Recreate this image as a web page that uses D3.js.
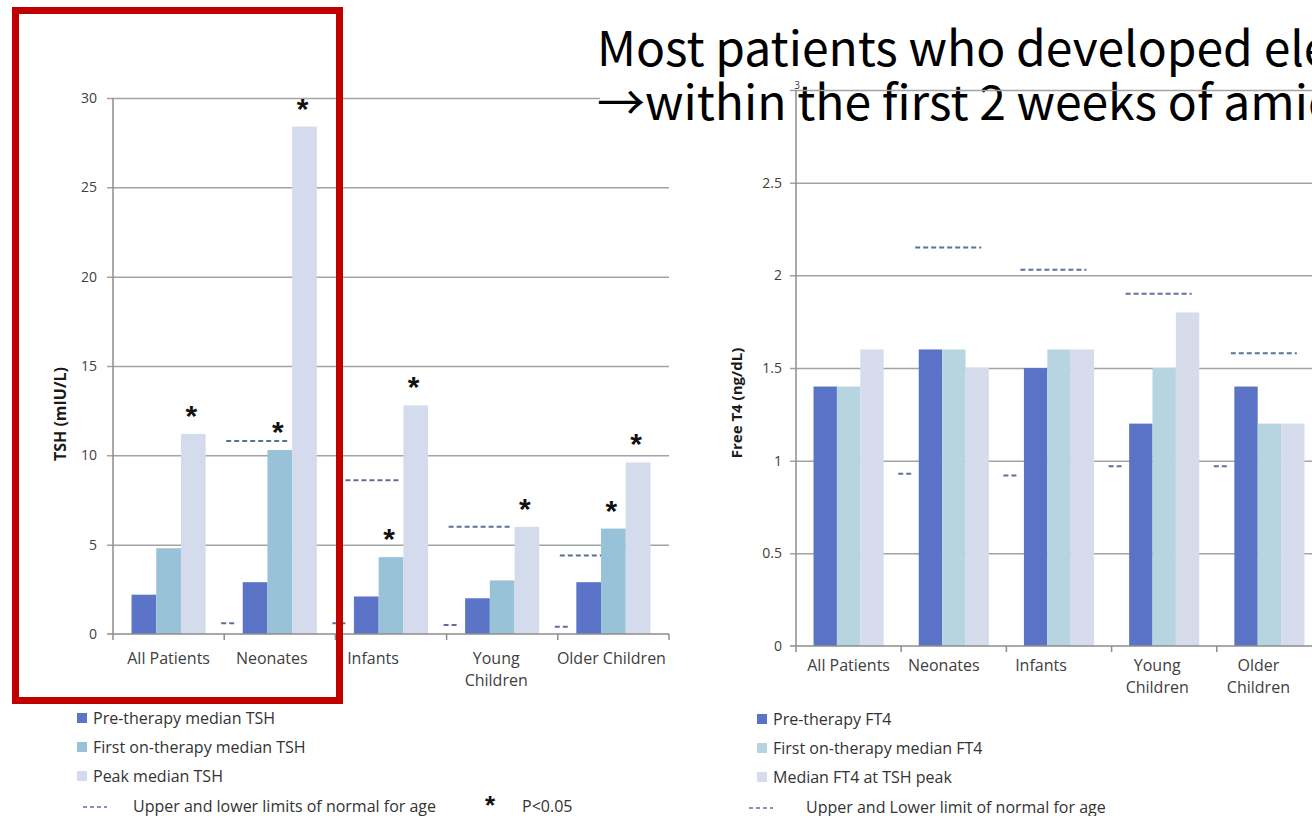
<!DOCTYPE html>
<html><head><meta charset="utf-8">
<script src="https://cdn.jsdelivr.net/npm/d3@7"></script>
<style>
body{margin:0;background:#fff;overflow:hidden}
svg{display:block}
text{font-family:"Open Sans","Noto Sans",sans-serif}
</style>
</head><body>
<svg id="c" width="1312" height="816"></svg>
<script>
// ---------- data ----------
const categories = ["All Patients","Neonates","Infants","Young Children","Older Children"];
const tshCategoryLabels = [["All Patients"],["Neonates"],["Infants"],["Young","Children"],["Older Children"]];
const ft4CategoryLabels = [["All Patients"],["Neonates"],["Infants"],["Young","Children"],["Older","Children"]];

const tshSeriesNames = ["Pre-therapy median TSH","First on-therapy median TSH","Peak median TSH"];
const tshPre   = [2.2, 2.9, 2.1, 2.0, 2.9];
const tshFirst = [4.8, 10.3, 4.3, 3.0, 5.9];
const tshPeak  = [11.2, 28.4, 12.8, 6.0, 9.6];
const tshUpper = [null, 10.8, 8.6, 6.0, 4.4];
const tshLower = [null, 0.6, 0.6, 0.5, 0.4];
const tshSignificant = [[0,0,1],[0,1,1],[0,1,1],[0,0,1],[0,1,1]];
const tshTicks = [0,5,10,15,20,25,30];

const ft4SeriesNames = ["Pre-therapy FT4","First on-therapy median FT4","Median FT4 at TSH peak"];
const ft4Pre   = [1.4, 1.6, 1.5, 1.2, 1.4];
const ft4First = [1.4, 1.6, 1.6, 1.5, 1.2];
const ft4Peak  = [1.6, 1.5, 1.6, 1.8, 1.2];
const ft4Upper = [null, 2.15, 2.03, 1.9, 1.58];
const ft4Lower = [null, 0.93, 0.92, 0.97, 0.97];
const ft4Ticks = [0,0.5,1,1.5,2,2.5,3];

const titleLines = ["Most patients who developed elevated TSH", "\u2192within the first 2 weeks of amiodarone"];

// ---------- drawing ----------
const svg = d3.select("#c");

function drawChart(g, cfg){
  const x = d3.scaleBand().domain(categories).range([cfg.x0, cfg.x1]).padding(0);
  const inner = d3.scaleBand().domain([0,1,2]).range([0, x.bandwidth()]).paddingInner(0).paddingOuter(0.75);
  const y = d3.scaleLinear().domain(cfg.domain).range([cfg.yBottom, cfg.yTop]);

  // gridlines + y labels
  const ax = g.append("g").attr("transform", `translate(${cfg.x0},0)`)
    .call(d3.axisLeft(y).tickValues(cfg.ticks).tickSize(-(cfg.x1-cfg.x0)).tickPadding(cfg.tickPad)
      .tickFormat(d3.format("~g")));
  ax.select(".domain").remove();
  ax.selectAll(".tick line").attr("x1",-6).attr("stroke","#a3a3a3").attr("stroke-width",1.5)
    .filter(d=>d===0).remove();
  ax.selectAll(".tick text").style("font-size",cfg.tickFont+"px").style("fill","#404040")
    .style("font-family","'Open Sans',sans-serif");
  if (cfg.topTickSmall){
    ax.selectAll(".tick text").filter(d=>d===cfg.domain[1])
      .style("font-size","10px").attr("x",4).attr("dy","-0.15em");
  }

  // limits (dashed)
  const limits = [];
  categories.forEach((c,i)=>{
    if (cfg.upper[i]!=null) limits.push({c, v:cfg.upper[i], a:cfg.upA, b:cfg.upB});
    if (cfg.lower[i]!=null) limits.push({c, v:cfg.lower[i], a:cfg.loA, b:cfg.loB});
  });
  g.append("g").selectAll("line").data(limits).join("line")
    .attr("x1", d=>x(d.c)+d.a).attr("x2", d=>x(d.c)+d.b)
    .attr("y1", d=>y(d.v)).attr("y2", d=>y(d.v))
    .attr("stroke","#5f6f9c").attr("stroke-width",2).attr("stroke-dasharray","5,3");

  // bars
  const series = [cfg.s0, cfg.s1, cfg.s2];
  const bars = g.append("g");
  series.forEach((vals,si)=>{
    bars.append("g").selectAll("rect").data(vals.map((v,i)=>({c:categories[i], v}))).join("rect")
      .attr("x", d=>x(d.c)+inner(si)).attr("width", inner.bandwidth())
      .attr("y", d=>y(d.v)).attr("height", d=>y(0)-y(d.v))
      .attr("fill", cfg.colors[si]);
  });

  // y axis line
  g.append("line").attr("x1",cfg.x0).attr("x2",cfg.x0).attr("y1",cfg.yTop).attr("y2",cfg.yBottom)
    .attr("stroke","#8c8c8c").attr("stroke-width",1.5);
  // x axis line + ticks
  g.append("line").attr("x1",cfg.x0-6).attr("x2",cfg.x1).attr("y1",cfg.yBottom).attr("y2",cfg.yBottom)
    .attr("stroke","#8c8c8c").attr("stroke-width",1.5);
  g.append("g").selectAll("line").data(d3.range(categories.length+1)).join("line")
    .attr("x1", i=>cfg.x0+i*x.step()).attr("x2", i=>cfg.x0+i*x.step())
    .attr("y1", cfg.yBottom).attr("y2", cfg.yBottom+6)
    .attr("stroke","#8c8c8c").attr("stroke-width",1.5);

  // category labels
  g.append("g").selectAll("text").data(categories).join("text")
    .attr("text-anchor","middle").style("font-size",cfg.labelFont+"px").style("fill","#404040")
    .each(function(c,i){
      const t = d3.select(this);
      cfg.catLabels[i].forEach((ln,li)=>{
        t.append("tspan").attr("x", x(c)+x.bandwidth()/2+cfg.labelShift[i])
          .attr("y", cfg.yBottom+cfg.labelDy+li*22).text(ln);
      });
    });

  // significance stars
  if (cfg.sig){
    const stars = [];
    cfg.sig.forEach((row,i)=>row.forEach((s,si)=>{ if(s) stars.push({c:categories[i], si, v:series[si][i]}); }));
    g.append("g").selectAll("text").data(stars).join("text")
      .attr("x", d=>x(d.c)+inner(d.si)+inner.bandwidth()/2-2)
      .attr("y", d=>y(d.v)-8)
      .attr("text-anchor","middle")
      .style("font-family","'Liberation Sans',Arial,sans-serif").style("font-weight","bold")
      .style("font-size","30px").style("fill","#111").text("*");
  }

  // y title
  g.append("text").attr("transform",`translate(${cfg.titleX},${cfg.titleY}) rotate(-90)`)
    .attr("text-anchor","middle").style("font-size",cfg.yTitleFont+"px").style("font-weight","bold")
    .style("fill","#1a1a1a").attr("dy","0.35em").text(cfg.yTitle);

  // legend
  const lg = g.append("g");
  cfg.names.forEach((n,si)=>{
    lg.append("rect").attr("x",cfg.legX).attr("y",cfg.legY+si*cfg.legStep-5)
      .attr("width",10).attr("height",10).attr("fill",cfg.colors[si]);
    lg.append("text").attr("x",cfg.legX+16).attr("y",cfg.legY+si*cfg.legStep)
      .attr("dy","0.35em").style("font-size","16px").style("fill","#333").text(n);
  });
  const ly = cfg.legY+3*cfg.legStep+2;
  lg.append("line").attr("x1",cfg.legX+cfg.dashDx).attr("x2",cfg.legX+cfg.dashDx+24).attr("y1",ly).attr("y2",ly)
    .attr("stroke","#5f6f9c").attr("stroke-width",1.5).attr("stroke-dasharray","4,3");
  lg.append("text").attr("x",cfg.legX+cfg.limTextDx).attr("y",ly).attr("dy","0.3em")
    .style("font-size","16px").style("fill","#333").text(cfg.limitText);
  if (cfg.pText){
    lg.append("text").attr("x",cfg.legX+413).attr("y",ly+7).attr("text-anchor","middle")
      .style("font-family","'Liberation Sans',Arial,sans-serif").style("font-weight","bold")
      .style("font-size","26px").style("fill","#111").text("*");
    lg.append("text").attr("x",cfg.legX+445).attr("y",ly).attr("dy","0.3em")
      .style("font-size","16px").style("fill","#333").text(cfg.pText);
  }
}

// left chart
const left = svg.append("g");
drawChart(left, {
  x0:113, x1:669, yTop:98, yBottom:634, domain:[0,30], ticks:tshTicks, tickPad:16, tickFont:14,
  s0:tshPre, s1:tshFirst, s2:tshPeak, upper:tshUpper, lower:tshLower,
  upA:2, upB:66, loA:-3, loB:13,
  colors:["#5b74c8","#98c2d7","#d4dbec"],
  catLabels:tshCategoryLabels, labelShift:[0,-8,-18,-6,-2], labelFont:16, labelDy:30,
  sig:tshSignificant, yTitle:"TSH (mIU/L)", yTitleFont:16, titleX:60, titleY:414,
  names:tshSeriesNames, legX:77, legY:718, legStep:29, dashDx:6,
  limitText:"Upper and lower limits of normal for age", limTextDx:56, pText:"P<0.05"
});

// red highlight box
svg.append("rect").attr("x",15.5).attr("y",10.5).attr("width",324).attr("height",690)
  .attr("fill","none").attr("stroke","#c00000").attr("stroke-width",7);

// title (white box behind)
svg.append("rect").attr("x",600).attr("y",22).attr("width",712).attr("height",106).attr("fill","#fff");
svg.append("g").selectAll("text").data(titleLines).join("text")
  .attr("x",597).attr("y",(d,i)=>66+i*54)
  .style("font-family","'Noto Sans CJK KR','Noto Sans',sans-serif").style("font-size","48px")
  .style("fill","#000").text(d=>d);

// right chart
const right = svg.append("g");
drawChart(right, {
  x0:796, x1:1322, yTop:90, yBottom:646, domain:[0,3], ticks:ft4Ticks, tickPad:14, tickFont:14,
  topTickSmall:true,
  s0:ft4Pre, s1:ft4First, s2:ft4Peak, upper:ft4Upper, lower:ft4Lower,
  upA:14, upB:80, loA:-3, loB:13,
  colors:["#5b73c6","#b7d5e0","#d6dcec"],
  catLabels:ft4CategoryLabels, labelShift:[0,-10,-18,-7,-11], labelFont:16, labelDy:25,
  sig:null, yTitle:"Free T4 (ng/dL)", yTitleFont:15, titleX:737, titleY:403,
  names:ft4SeriesNames, legX:757, legY:719, legStep:29, dashDx:-8,
  limitText:"Upper and Lower limit of normal for age", limTextDx:49, pText:null
});
</script>
</body></html>
